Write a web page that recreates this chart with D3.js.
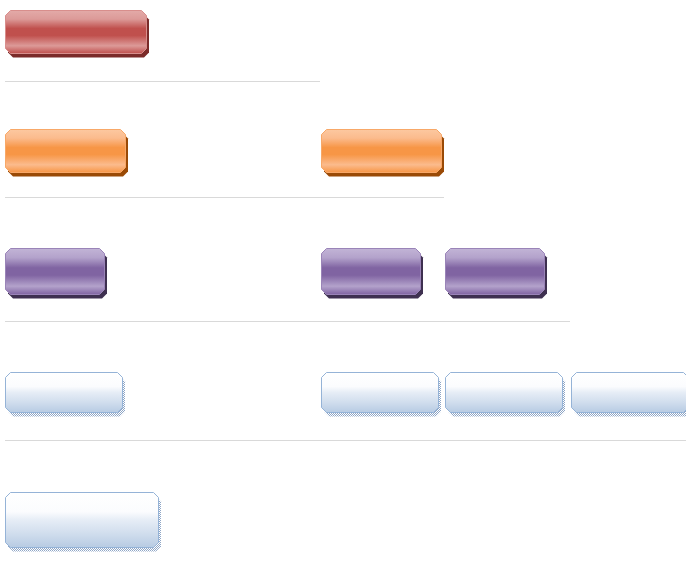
<!DOCTYPE html>
<html>
<head>
<meta charset="utf-8">
<script src="https://cdn.jsdelivr.net/npm/d3@7"></script>
<style>
  body { margin: 0; background: #fff; }
  svg { display: block; }
</style>
</head>
<body>
<div id="chart"></div>
<script>
// Levels of the style sheet and which columns each one fills
const levels = ["Level 1", "Level 2", "Level 3", "Level 4", "Level 5"];
const levelColumns = [[0], [0, 1], [0, 1, 2], [0, 1, 2, 3], [0]];
const columns = [0, 1, 2, 3];

// Set the dimensions of the canvas
let width = 686,
  height = 562;

// Scales for rows and columns
let x = d3.scaleOrdinal().domain(columns).range([5, 321, 445, 571]);
let y = d3.scaleOrdinal().domain(levels).range([10, 129, 248, 372, 492]);
let sepY = d3.scaleOrdinal().domain(levels).range([81, 197, 321, 440]);

// Box look per level
let boxW = d3.scaleOrdinal().domain(levels).range([141, 120, 99, 117, 153]);
let boxH = d3.scaleOrdinal().domain(levels).range([43, 43, 46, 40, 55]);
let theme = d3.scaleOrdinal().domain(levels).range(["red", "orange", "purple", "blue", "blue"]);

let themes = {
  red: { light: "#dc9a98", mid: "#c0504d", edge: "#e3aaa8", shadow: "#7b2b29", stroke: "#d88e8c" },
  orange: { light: "#fbbb8d", mid: "#f79646", edge: "#fcc8a0", shadow: "#9a4a06", stroke: "#f8a868" },
  purple: { light: "#b3a2cb", mid: "#8064a2", edge: "#c2b4d6", shadow: "#3e3050", stroke: "#9a84b8" },
  blue: { light: "#ffffff", mid: "#dbe5f1", edge: "#b9cde5", shadow: "#8fa6c6", stroke: "#95b3d7" }
};

// Chamfered rectangle
function chamfer(x0, y0, w, h, c) {
  return "M" + (x0 + c) + "," + y0 +
    "H" + (x0 + w - c) + "L" + (x0 + w) + "," + (y0 + c) +
    "V" + (y0 + h - c) + "L" + (x0 + w - c) + "," + (y0 + h) +
    "H" + (x0 + c) + "L" + x0 + "," + (y0 + h - c) +
    "V" + (y0 + c) + "Z";
}

let svg = d3
  .select("#chart")
  .append("svg")
  .attr("width", width)
  .attr("height", height);

let defs = svg.append("defs");

// Glossy gradients
Object.keys(themes).forEach(function(k) {
  let t = themes[k];
  let g = defs
    .append("linearGradient")
    .attr("id", "grad-" + k)
    .attr("x1", 0).attr("y1", 0).attr("x2", 0).attr("y2", 1);
  let stops;
  if (k === "blue") {
    stops = [[0, "#ffffff"], [0.35, "#fbfcfe"], [0.5, "#e6edf6"], [0.75, "#d0dded"], [1, "#b7cbe3"]];
  } else {
    stops = [[0, t.edge], [0.2, t.light], [0.42, t.mid], [0.58, t.mid], [0.82, t.light], [1, t.mid]];
  }
  stops.forEach(function(s) {
    g.append("stop").attr("offset", s[0]).attr("stop-color", s[1]);
  });
});

// Checkered shadow for the pale boxes
let pat = defs
  .append("pattern")
  .attr("id", "checker")
  .attr("patternUnits", "userSpaceOnUse")
  .attr("width", 2)
  .attr("height", 2);
pat.append("rect").attr("width", 2).attr("height", 2).attr("fill", "#ffffff");
pat.append("rect").attr("width", 1).attr("height", 1).attr("fill", themes.blue.shadow);
pat.append("rect").attr("x", 1).attr("y", 1).attr("width", 1).attr("height", 1).attr("fill", themes.blue.shadow);

// Separator lines between levels
svg
  .selectAll(".sep")
  .data(levels.slice(0, 4))
  .enter()
  .append("line")
  .attr("class", "sep")
  .attr("x1", 5)
  .attr("x2", function(d, i) {
    return i < 3 ? x(i + 1) - 1 : width;
  })
  .attr("y1", function(d) { return sepY(d) + 0.5; })
  .attr("y2", function(d) { return sepY(d) + 0.5; })
  .attr("stroke", "#d9d9d9")
  .attr("stroke-width", 1);

// Build the nodes
let nodes = [];
levels.forEach(function(lv, i) {
  levelColumns[i].forEach(function(c) {
    nodes.push({ level: lv, col: c });
  });
});

let node = svg
  .selectAll(".node")
  .data(nodes)
  .enter()
  .append("g")
  .attr("class", "node");

// Shadow
node
  .append("path")
  .attr("d", function(d) {
    let x0 = x(d.col), y0 = y(d.level);
    return chamfer(x0 + 3, y0 + 4.5, boxW(d.level), boxH(d.level), 5);
  })
  .attr("fill", function(d) {
    let t = theme(d.level);
    return t === "blue" ? "url(#checker)" : themes[t].shadow;
  });

// Box body
node
  .append("path")
  .attr("d", function(d) {
    return chamfer(x(d.col) + 0.5, y(d.level) + 0.5, boxW(d.level), boxH(d.level), 5);
  })
  .attr("fill", function(d) { return "url(#grad-" + theme(d.level) + ")"; })
  .attr("stroke", function(d) { return themes[theme(d.level)].stroke; })
  .attr("stroke-width", 1);
</script>
</body>
</html>
